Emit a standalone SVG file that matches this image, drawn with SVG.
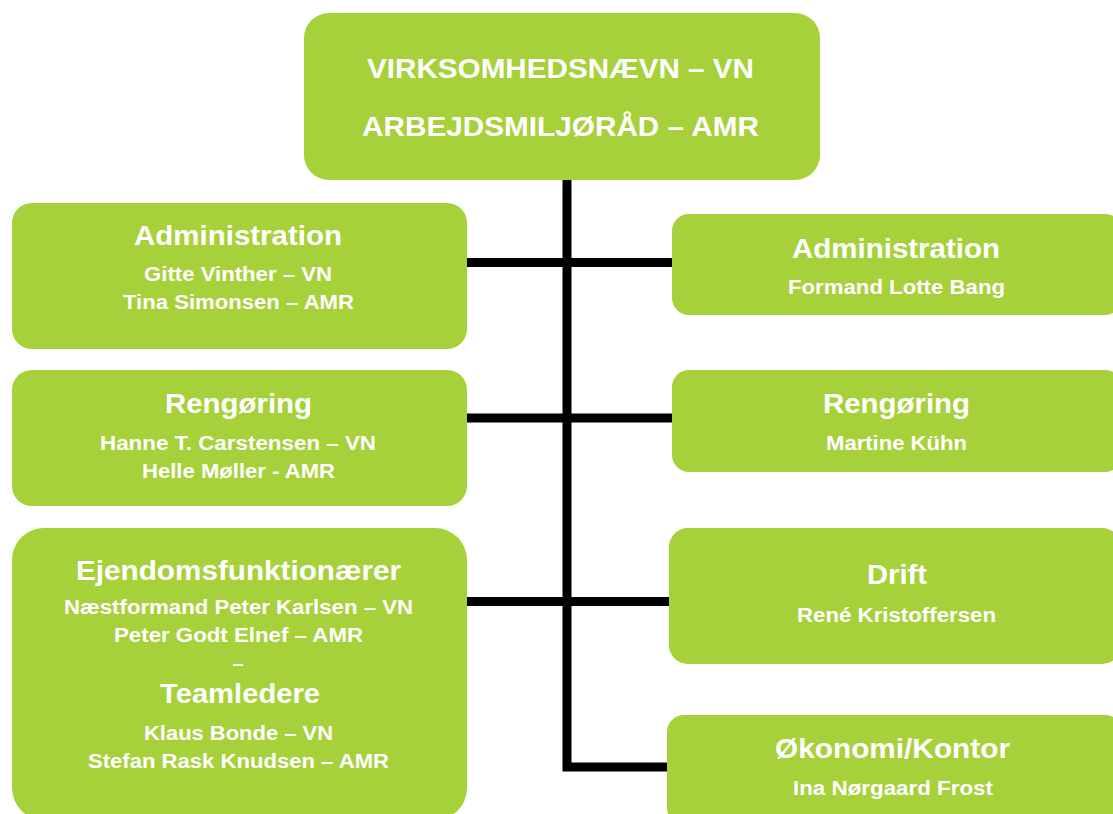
<svg xmlns="http://www.w3.org/2000/svg" width="1113" height="814" viewBox="0 0 1113 814">
<style>
.box{fill:#A7D13B;}
.t{font-family:"Liberation Sans",Arial,sans-serif;font-weight:bold;fill:#FFFFFF;text-anchor:middle;}
.h{font-size:28px;}
.s{font-size:20px;}
.top{font-size:28px;}
.con{fill:none;stroke:#000000;stroke-width:9;stroke-linejoin:miter;stroke-linecap:butt;}
</style>
<rect width="1113" height="814" fill="#FFFFFF"/>
<g id="connectors">
<path class="con" d="M567 179 V767 H668"/>
<line class="con" x1="466" y1="262.5" x2="673" y2="262.5"/>
<line class="con" x1="466" y1="418" x2="673" y2="418"/>
<line class="con" x1="466" y1="601.5" x2="670" y2="601.5"/>
</g>
<g id="node-top">
<rect class="box" x="304" y="13" width="516" height="167" rx="25"/>
<text class="t top" x="560.5" y="78" textLength="387" lengthAdjust="spacingAndGlyphs">VIRKSOMHEDSNÆVN – VN</text>
<text class="t top" x="560.5" y="136" textLength="397" lengthAdjust="spacingAndGlyphs">ARBEJDSMILJØRÅD – AMR</text>
</g>
<g id="node-left-admin">
<rect class="box" x="12" y="203" width="455" height="146" rx="20"/>
<text class="t h" x="238" y="245" textLength="208" lengthAdjust="spacingAndGlyphs">Administration</text>
<text class="t s" x="238" y="281" textLength="188" lengthAdjust="spacingAndGlyphs">Gitte Vinther – VN</text>
<text class="t s" x="238.5" y="309" textLength="231" lengthAdjust="spacingAndGlyphs">Tina Simonsen – AMR</text>
</g>
<g id="node-left-rengoring">
<rect class="box" x="12" y="370" width="455" height="136" rx="20"/>
<text class="t h" x="238.5" y="413" textLength="147" lengthAdjust="spacingAndGlyphs">Rengøring</text>
<text class="t s" x="238" y="450" textLength="276" lengthAdjust="spacingAndGlyphs">Hanne T. Carstensen – VN</text>
<text class="t s" x="238.5" y="478" textLength="193" lengthAdjust="spacingAndGlyphs">Helle Møller - AMR</text>
</g>
<g id="node-left-ejendom">
<rect class="box" x="12" y="528" width="455" height="292" rx="32"/>
<text class="t h" x="238.5" y="580" textLength="325" lengthAdjust="spacingAndGlyphs">Ejendomsfunktionærer</text>
<text class="t s" x="238.5" y="614" textLength="349" lengthAdjust="spacingAndGlyphs">Næstformand Peter Karlsen – VN</text>
<text class="t s" x="238.5" y="642" textLength="249" lengthAdjust="spacingAndGlyphs">Peter Godt Elnef – AMR</text>
<text class="t s" x="238" y="670">–</text>
<text class="t h" x="240" y="703" textLength="160" lengthAdjust="spacingAndGlyphs">Teamledere</text>
<text class="t s" x="238.5" y="740" textLength="189" lengthAdjust="spacingAndGlyphs">Klaus Bonde – VN</text>
<text class="t s" x="238.5" y="768" textLength="301" lengthAdjust="spacingAndGlyphs">Stefan Rask Knudsen – AMR</text>
</g>
<g id="node-right-admin">
<rect class="box" x="672" y="214" width="450" height="101" rx="17"/>
<text class="t h" x="896" y="258" textLength="208" lengthAdjust="spacingAndGlyphs">Administration</text>
<text class="t s" x="896.5" y="294" textLength="217" lengthAdjust="spacingAndGlyphs">Formand Lotte Bang</text>
</g>
<g id="node-right-rengoring">
<rect class="box" x="672" y="370" width="450" height="102" rx="17"/>
<text class="t h" x="896.5" y="413" textLength="147" lengthAdjust="spacingAndGlyphs">Rengøring</text>
<text class="t s" x="896.5" y="450" textLength="141" lengthAdjust="spacingAndGlyphs">Martine Kühn</text>
</g>
<g id="node-right-drift">
<rect class="box" x="669" y="528" width="452" height="136" rx="19"/>
<text class="t h" x="897" y="584" textLength="60" lengthAdjust="spacingAndGlyphs">Drift</text>
<text class="t s" x="896.5" y="622" textLength="199" lengthAdjust="spacingAndGlyphs">René Kristoffersen</text>
</g>
<g id="node-right-okonomi">
<rect class="box" x="667" y="715" width="455" height="110" rx="17"/>
<text class="t h" x="892.5" y="758" textLength="235" lengthAdjust="spacingAndGlyphs">Økonomi/Kontor</text>
<text class="t s" x="893" y="795" textLength="200" lengthAdjust="spacingAndGlyphs">Ina Nørgaard Frost</text>
</g>
</svg>
